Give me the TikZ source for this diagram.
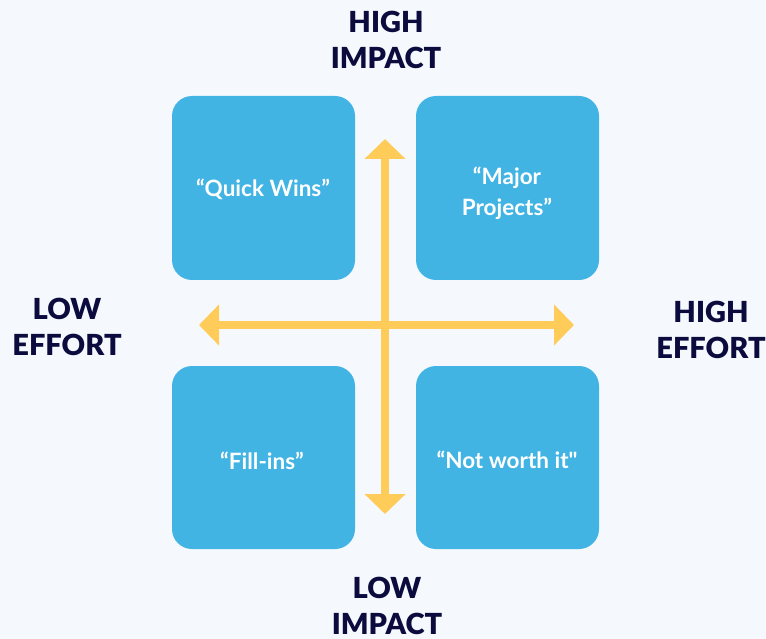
\documentclass[tikz,border=0pt]{standalone}
\usepackage{fontspec}
\usetikzlibrary{arrows.meta}
\newfontfamily\heavyfont{Lato Black}
\newfontfamily\boxfont{Lato Bold}
\definecolor{bgc}{HTML}{F5F9FD}
\definecolor{boxc}{HTML}{42B4E4}
\definecolor{axisc}{HTML}{FFCC5A}
\definecolor{inkc}{HTML}{0B0B3E}
\begin{document}
\begin{tikzpicture}[x=1pt,y=-1pt,
  quad/.style={fill=boxc,rounded corners=20pt},
  quadtext/.style={text=white,font=\boxfont\fontsize{22.5}{31}\selectfont,align=center},
  axislabel/.style={text=inkc,font=\heavyfont\fontsize{29}{36}\selectfont,align=center},
  axis/.style={draw=axisc,line width=8pt,{Triangle[width=40pt,length=20pt]}-{Triangle[width=40pt,length=20pt]}}]
  \fill[bgc] (0,0) rectangle (766,639);
  \useasboundingbox (0,0) rectangle (766,639);
  % quadrants
  \fill[quad] (172,96) rectangle (355,280);
  \fill[quad] (416,96) rectangle (599,280);
  \fill[quad] (172,366) rectangle (355,549);
  \fill[quad] (416,366) rectangle (599,549);
  \node[quadtext] (qw) at (263,189) {“Quick Wins”};
  \node[quadtext] (mp) at (507,193) {“Major\\Projects”};
  \node[quadtext] (fi) at (262,461) {“Fill-ins”};
  \node[quadtext] (nw) at (507,460) {“Not worth it"};
  % axes
  \coordinate (top) at (385,139);
  \coordinate (bot) at (385,514);
  \coordinate (lft) at (199,325);
  \coordinate (rgt) at (574,325);
  \draw[axis] (bot) -- (top);
  \draw[axis] (lft) -- (rgt);
  % axis labels
  \node[axislabel] (hi) at (386,40) {HIGH\\IMPACT};
  \node[axislabel] (li) at (387,606) {LOW\\IMPACT};
  \node[axislabel] (le) at (67,327) {LOW\\EFFORT};
  \node[axislabel] (he) at (711,330) {HIGH\\EFFORT};
\end{tikzpicture}
\end{document}
